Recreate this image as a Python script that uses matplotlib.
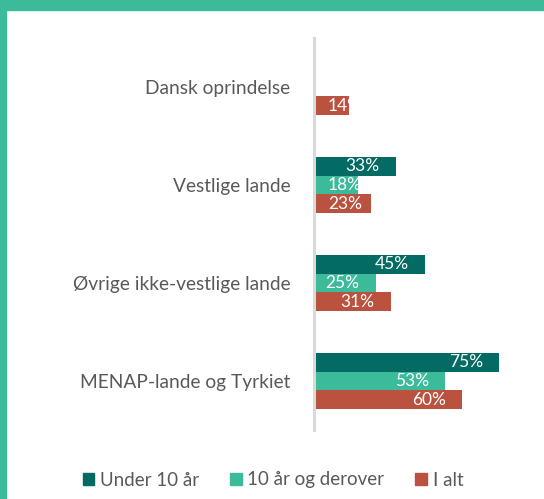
import numpy as np
import matplotlib
matplotlib.use('Agg')
import matplotlib.pyplot as plt
from matplotlib.patches import Rectangle, Patch

plt.rcParams['font.family'] = ['Lato', 'DejaVu Sans']

# data
categories = ['Dansk oprindelse', 'Vestlige lande', 'Øvrige ikke-vestlige lande', 'MENAP-lande og Tyrkiet']
series_names = ['Under 10 år', '10 år og derover', 'I alt']
under_10 = [np.nan, 33, 45, 75]
over_10 = [np.nan, 18, 25, 53]
i_alt = [14, 23, 31, 60]
value_labels = {'I alt': ['14%', '23%', '31%', '60%'],
                'Under 10 år': ['', '33%', '45%', '75%'],
                '10 år og derover': ['', '18%', '25%', '53%']}

colors = ['#036A64', '#3CBB9B', '#BA523F']
border = '#3CBB9B'
grey = '#595959'

W, H = 544, 499
fig = plt.figure(figsize=(W / 100, H / 100), dpi=100)

# teal frame on top and left side
fig.patches.append(Rectangle((0, 1 - 10 / H), 1, 10 / H, transform=fig.transFigure, color=border, zorder=0))
fig.patches.append(Rectangle((0, 0), 6 / W, 1, transform=fig.transFigure, color=border, zorder=0))

ax = fig.add_axes([314 / W, (H - 430) / H, 206 / W, 392 / H])

h = 0.19
y = np.arange(len(categories))
all_vals = [under_10, over_10, i_alt]
for k, (name, vals, col) in enumerate(zip(series_names, all_vals, colors)):
    offs = (k - 1) * h
    bars = ax.barh(y + offs, vals, height=h, color=col, label=name, edgecolor='none')
    for j, b in enumerate(bars):
        v = vals[j]
        if np.isnan(v):
            continue
        lab = value_labels[name][j]
        if v - 6.5 < 18:
            t = ax.text(5.7, y[j] + offs, lab, ha='left', va='center', color='white', fontsize=12.5)
        else:
            t = ax.text(v - 6.5, y[j] + offs, lab, ha='right', va='center', color='white', fontsize=12.5)
        t.set_clip_path(b)

ax.set_xlim(0, 206 / 2.47)
ax.set_ylim(3.5, -0.5)
ax.set_yticks(y)
ax.set_yticklabels(categories, fontsize=13.8, color=grey)
ax.tick_params(axis='y', length=0, pad=17)
ax.set_xticks([])
for s in ['top', 'right', 'bottom']:
    ax.spines[s].set_visible(False)
ax.spines['left'].set_color('#D9D9D9')
ax.spines['left'].set_linewidth(2.2)

handles = [Patch(color=c, label=n) for c, n in zip(colors, series_names)]
fig.legend(handles=handles, loc='center', bbox_to_anchor=(273 / W, 19 / H), ncol=3, frameon=False,
           fontsize=13.5, labelcolor=grey, handlelength=0.62, handleheight=0.62, handletextpad=0.3,
           columnspacing=1.65)

fig.savefig('out.png', dpi=100)
